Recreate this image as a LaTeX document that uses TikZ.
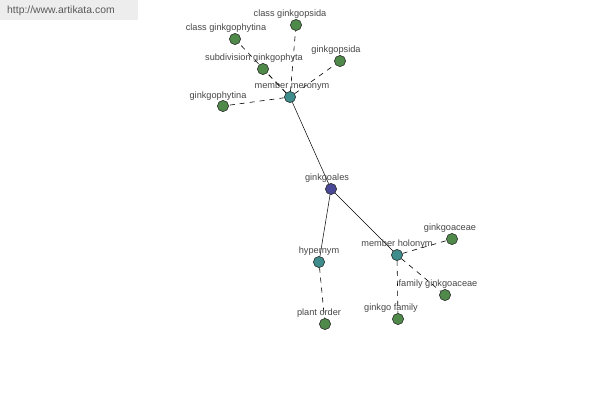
\documentclass[tikz,border=0pt]{standalone}
\usepackage{fontspec}
\setmainfont{Liberation Sans}
\begin{document}
\begin{tikzpicture}[x=1pt,y=-1pt,
  dot/.style={circle,draw=black!80,line width=0.5pt,minimum size=11pt,inner sep=0pt},
  gdot/.style={dot,fill={rgb,255:red,80;green,138;blue,75}},
  tdot/.style={dot,fill={rgb,255:red,62;green,140;blue,140}},
  bdot/.style={dot,fill={rgb,255:red,72;green,72;blue,150}},
  lbl/.style={font=\fontsize{9.2}{10}\selectfont,text=black!72,inner sep=0pt},
  sol/.style={draw=black,line width=0.5pt},
  dsh/.style={draw=black,line width=0.6pt,dash pattern=on 5pt off 5pt}]
\useasboundingbox (0,0) rectangle (600,400);
\fill[white] (0,0) rectangle (600,400);
\node[fill=black!7,minimum width=138pt,minimum height=20pt,anchor=north west,inner sep=0pt] (banner) at (0,0) {};
\node[font=\fontsize{10.4}{12}\selectfont,text=black!65,anchor=west,inner sep=0pt] (url) at (7,11) {http://www.artikata.com};
\coordinate (pG) at (331,189);
\coordinate (pMM) at (290,97);
\coordinate (pH) at (319,262);
\coordinate (pMH) at (397,255);
\node[bdot] (G) at (pG) {};
\node[tdot] (MM) at (pMM) {};
\node[tdot] (H) at (pH) {};
\node[tdot] (MH) at (pMH) {};
\node[gdot] (CG) at (235,39) {};
\node[gdot] (CGS) at (296,25) {};
\node[gdot] (SG) at (263,69) {};
\node[gdot] (GS) at (340,61) {};
\node[gdot] (GP) at (223,106) {};
\node[gdot] (PO) at (325,324) {};
\node[gdot] (GA) at (452,239) {};
\node[gdot] (FG) at (445,295) {};
\node[gdot] (GF) at (398,319) {};
\path[sol] (G) -- (MM);
\path[sol] (G) -- (H);
\path[sol] (G) -- (MH);
\path[dsh] (MM) -- (CG);
\path[dsh] (MM) -- (CGS);
\path[dsh] (MM) -- (SG);
\path[dsh] (MM) -- (GS);
\path[dsh] (MM) -- (GP);
\path[dsh] (H) -- (PO);
\path[dsh] (MH) -- (GA);
\path[dsh] (MH) -- (FG);
\path[dsh] (MH) -- (GF);
% labels
\node[lbl] (lG) at (327,178) {ginkgoales};
\node[lbl] (lMM) at (292,86) {member meronym};
\node[lbl] (lH) at (319,251) {hypernym};
\node[lbl] (lMH) at (397,244) {member holonym};
\node[lbl] (lCG) at (226,28) {class ginkgophytina};
\node[lbl] (lCGS) at (290,14) {class ginkgopsida};
\node[lbl] (lSG) at (254,58) {subdivision ginkgophyta};
\node[lbl] (lGS) at (336,50) {ginkgopsida};
\node[lbl] (lGP) at (218,96) {ginkgophytina};
\node[lbl] (lPO) at (319,313) {plant order};
\node[lbl] (lGA) at (450,228) {ginkgoaceae};
\node[lbl] (lFG) at (438,284) {family ginkgoaceae};
\node[lbl] (lGF) at (391,308) {ginkgo family};
% dots on top of the lines
\node[bdot] at (pG) {};
\node[tdot] at (pMM) {};
\node[tdot] at (pH) {};
\node[tdot] at (pMH) {};
\node[gdot] at (235,39) {};
\node[gdot] at (296,25) {};
\node[gdot] at (263,69) {};
\node[gdot] at (340,61) {};
\node[gdot] at (223,106) {};
\node[gdot] at (325,324) {};
\node[gdot] at (452,239) {};
\node[gdot] at (445,295) {};
\node[gdot] at (398,319) {};
\end{tikzpicture}
\end{document}
